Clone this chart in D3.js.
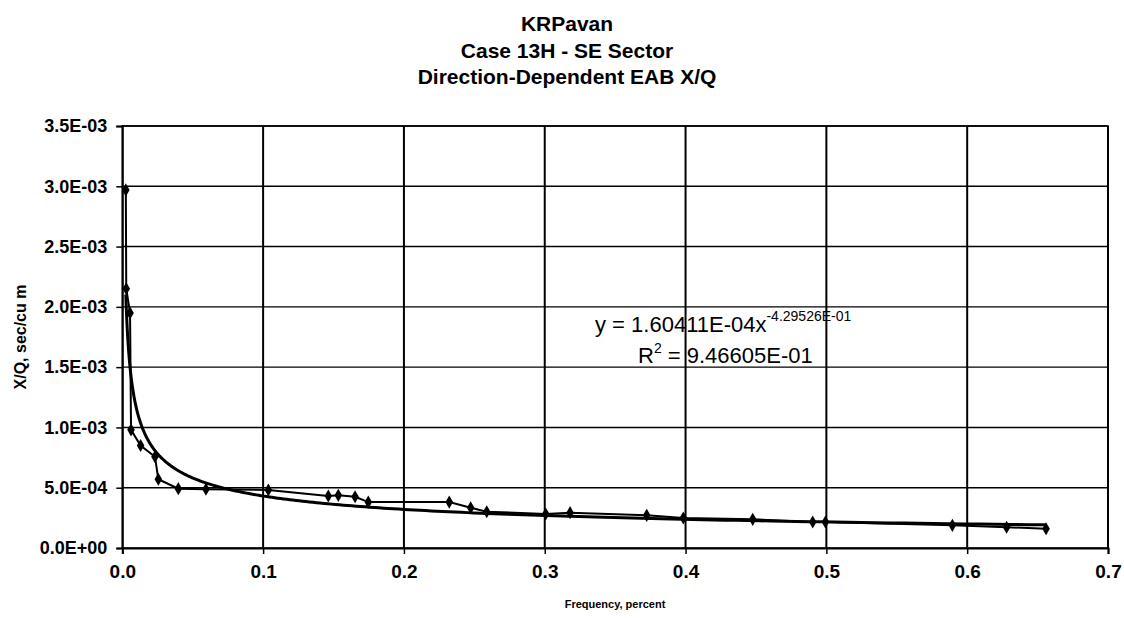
<!DOCTYPE html>
<html>
<head>
<meta charset="utf-8">
<script src="https://cdn.jsdelivr.net/npm/d3@7"></script>
<style>
  html, body { margin: 0; padding: 0; background: #fff; }
  svg { display: block; }
  text { font-family: "Liberation Sans", Arial, sans-serif; fill: #000; }
</style>
</head>
<body>
<svg id="chart" width="1124" height="618"></svg>
<script>
// ---- data ----
const titleLines = ["KRPavan", "Case 13H - SE Sector", "Direction-Dependent EAB X/Q"];
const frequency = [0.0025, 0.0028, 0.0055, 0.0062, 0.013, 0.0232, 0.0256, 0.0398, 0.0594, 0.1037,
                   0.1463, 0.1534, 0.1653, 0.1747, 0.2322, 0.2474, 0.2588, 0.3007, 0.318, 0.3724,
                   0.3984, 0.4477, 0.4903, 0.4993, 0.5895, 0.628, 0.656];
const xoq = [2.97e-3, 2.15e-3, 1.95e-3, 9.8e-4, 8.5e-4, 7.57e-4, 5.7e-4, 4.92e-4, 4.87e-4, 4.81e-4,
             4.31e-4, 4.37e-4, 4.25e-4, 3.81e-4, 3.81e-4, 3.34e-4, 3.01e-4, 2.82e-4, 2.93e-4, 2.71e-4,
             2.49e-4, 2.38e-4, 2.16e-4, 2.16e-4, 1.88e-4, 1.72e-4, 1.6e-4];
const xTicks = [0, 0.1, 0.2, 0.3, 0.4, 0.5, 0.6, 0.7];
const yTicks = [0, 5e-4, 1e-3, 1.5e-3, 2e-3, 2.5e-3, 3e-3, 3.5e-3];
const yTickLabels = ["0.0E+00", "5.0E-04", "1.0E-03", "1.5E-03", "2.0E-03", "2.5E-03", "3.0E-03", "3.5E-03"];
const xTickLabels = ["0.0", "0.1", "0.2", "0.3", "0.4", "0.5", "0.6", "0.7"];
// power trendline coefficients shown on the chart
const trendA = 1.60411e-4;
const trendB = -4.29526e-1;
const eqText = "y = 1.60411E-04x";
const eqExp = "-4.29526E-01";
const r2Text = "9.46605E-01";

// ---- layout ----
const svg = d3.select("#chart");
const L = 122.3, R = 1108, T = 126, B = 548;
const x = d3.scaleLinear().domain([0, 0.7]).range([L, R]);
const y = d3.scaleLinear().domain([0, 3.5e-3]).range([B, T]);

// title
svg.append("g").selectAll("text").data(titleLines).join("text")
  .attr("x", 567).attr("y", (d, i) => 31 + i * 26.5)
  .attr("text-anchor", "middle")
  .style("font-size", "21px").style("font-weight", "bold")
  .text(d => d);

// gridlines
svg.append("g").selectAll("line").data(yTicks.slice(1)).join("line")
  .attr("x1", L).attr("x2", R).attr("y1", d => y(d)).attr("y2", d => y(d))
  .attr("stroke", "#000").attr("stroke-width", 1.4);
svg.append("g").selectAll("line").data(xTicks.slice(1)).join("line")
  .attr("y1", T).attr("y2", B).attr("x1", d => x(d)).attr("x2", d => x(d))
  .attr("stroke", "#000").attr("stroke-width", 2);

// frame
svg.append("rect").attr("x", L).attr("y", T).attr("width", R - L).attr("height", B - T)
  .attr("fill", "none").attr("stroke", "#000").attr("stroke-width", 1.5);

// axes
const yAxis = d3.axisLeft(y).tickValues(yTicks).tickSize(6).tickPadding(9)
  .tickFormat((d, i) => yTickLabels[i]);
const gy = svg.append("g").attr("transform", `translate(${L},0)`).call(yAxis);
gy.select(".domain").attr("stroke", "#000").attr("stroke-width", 2);
gy.selectAll(".tick line").attr("stroke", "#000").attr("stroke-width", 1.5);
gy.selectAll(".tick text").style("font-size", "18px").style("font-weight", "bold")
  .style("font-family", "'Liberation Sans', Arial, sans-serif").attr("fill", "#000");

const xAxis = d3.axisBottom(x).tickValues(xTicks).tickSize(6).tickPadding(11)
  .tickFormat((d, i) => xTickLabels[i]);
const gx = svg.append("g").attr("transform", `translate(0,${B})`).call(xAxis);
gx.select(".domain").attr("stroke", "#000").attr("stroke-width", 2);
gx.selectAll(".tick line").attr("stroke", "#000").attr("stroke-width", 1.5);
gx.selectAll(".tick text").style("font-size", "19px").style("font-weight", "bold")
  .style("font-family", "'Liberation Sans', Arial, sans-serif").attr("fill", "#000");

// axis titles
svg.append("text").attr("transform", `translate(26,${(T + B) / 2}) rotate(-90)`)
  .attr("text-anchor", "middle").style("font-size", "16px").style("font-weight", "bold")
  .text("X/Q, sec/cu m");
svg.append("text").attr("x", 615).attr("y", 608)
  .attr("text-anchor", "middle").style("font-size", "11px").style("font-weight", "bold")
  .text("Frequency, percent");

// data line + markers
const pts = frequency.map((f, i) => [f, xoq[i]]);
svg.append("path").datum(pts)
  .attr("fill", "none").attr("stroke", "#000").attr("stroke-width", 2)
  .attr("d", d3.line().x(d => x(d[0])).y(d => y(d[1])));
svg.append("g").selectAll("path").data(pts).join("path")
  .attr("transform", d => `translate(${x(d[0])},${y(d[1])})`)
  .attr("d", d3.symbol(d3.symbolDiamond, 50))
  .attr("fill", "#000");

// power trendline (from the displayed coefficients)
const xMin = d3.min(frequency), xMax = d3.max(frequency);
const trendX = d3.range(0, 301).map(i => xMin * Math.pow(xMax / xMin, i / 300));
svg.append("path").datum(trendX.map(f => [f, trendA * Math.pow(f, trendB)]))
  .attr("fill", "none").attr("stroke", "#000").attr("stroke-width", 3)
  .attr("d", d3.line().x(d => x(d[0])).y(d => y(d[1])));

// equation text
const eq = svg.append("text").attr("x", 595).attr("y", 332).style("font-size", "22px");
eq.append("tspan").text(eqText);
eq.append("tspan").attr("dy", -11).style("font-size", "14px").text(eqExp);
const r2 = svg.append("text").attr("x", 638).attr("y", 363).style("font-size", "22px");
r2.append("tspan").text("R");
r2.append("tspan").attr("dy", -10).style("font-size", "14px").text("2");
r2.append("tspan").attr("dy", 10).text(" = " + r2Text);
</script>
</body>
</html>
